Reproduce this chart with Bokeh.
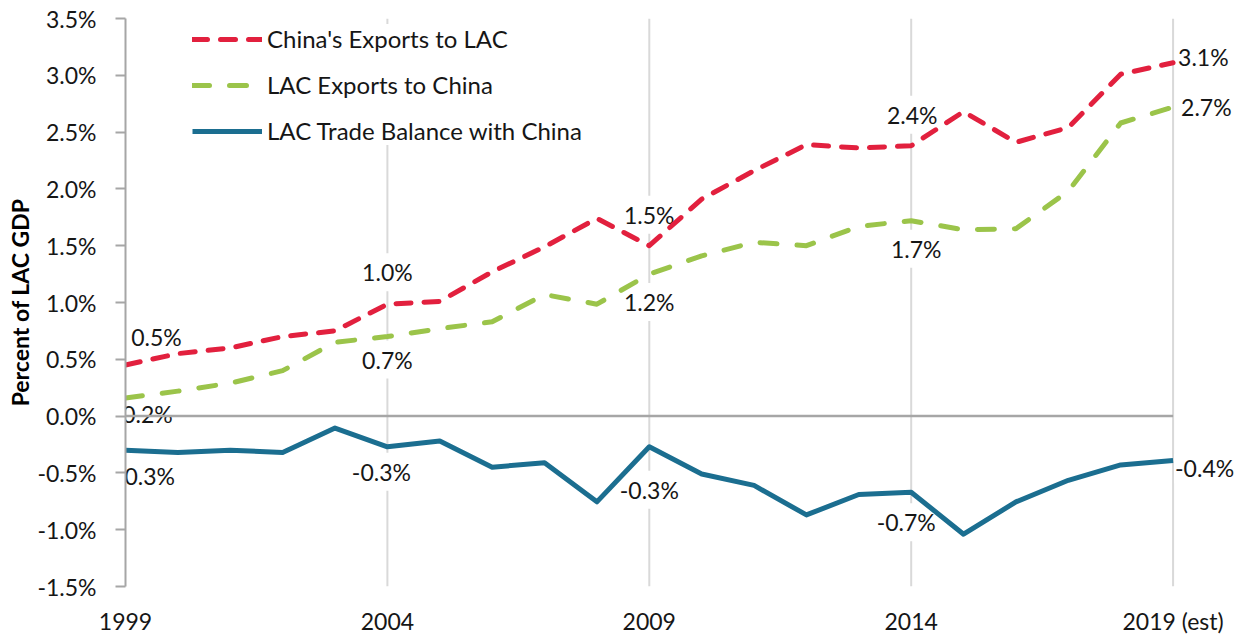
from bokeh.plotting import figure
from bokeh.models import (ColumnDataSource, Range1d, FixedTicker, CustomJSTickFormatter,
                          Legend, LegendItem)
from bokeh.core.properties import value
from bokeh.embed import file_html
from bokeh.resources import INLINE

# ---------------- data ----------------
years = list(range(1999, 2020))
china_exports_to_lac = [0.45, 0.55, 0.60, 0.70, 0.75, 0.985, 1.01, 1.27, 1.49, 1.74, 1.50,
                        1.91, 2.16, 2.39, 2.36, 2.38, 2.68, 2.41, 2.54, 3.01, 3.11]
lac_exports_to_china = [0.16, 0.22, 0.29, 0.40, 0.65, 0.70, 0.77, 0.83, 1.07, 0.985, 1.25,
                        1.41, 1.53, 1.50, 1.67, 1.72, 1.64, 1.65, 1.98, 2.58, 2.72]
lac_trade_balance = [-0.30, -0.32, -0.30, -0.32, -0.105, -0.27, -0.22, -0.45, -0.41, -0.755, -0.27,
                     -0.51, -0.61, -0.87, -0.69, -0.67, -1.04, -0.755, -0.565, -0.43, -0.39]
series_names = ["China's Exports to LAC", "LAC Exports to China", "LAC Trade Balance with China"]
label_years = [1999, 2004, 2009, 2014, 2019]
x_tick_labels = ["1999", "2004", "2009", "2014", "2019 (est)"]
y_ticks = [-1.5, -1.0, -0.5, 0.0, 0.5, 1.0, 1.5, 2.0, 2.5, 3.0, 3.5]
y_title = "Percent of LAC GDP"

# ---------------- styles / layout ----------------
FONT = "Lato"
RED = "#E2203E"
GREEN = "#9BC44A"
BLUE = "#1B6E90"
AXIS_GRAY = "#A6A6A6"
GRID_GRAY = "#D9D9D9"
TEXT = "#161616"

# data-label offsets in screen px (right, down) and alignment
red_off = [(31, -28, "center"), (0, -32, "center"), (0, -31, "center"), (1, -31, "center"), (4, -6, "left")]
green_off = [(22, 16, "center"), (0, 23, "center"), (0, 28, "center"), (5, 28, "center"), (7, 0, "left")]
blue_off = [(20, 26, "center"), (-6, 25, "center"), (0, 43, "center"), (-5, 30, "center"), (1, 8, "left")]

p = figure(width=1237, height=637, output_backend="svg", toolbar_location=None,
           x_range=Range1d(1999, 2020.23), y_range=Range1d(y_ticks[0], y_ticks[-1]),
           min_border_left=125, min_border_right=0, min_border_top=18, min_border_bottom=50)
p.outline_line_color = None
p.xgrid.visible = False
p.ygrid.visible = False

# x axis: labels only
xa = p.xaxis[0]
xa.ticker = FixedTicker(ticks=label_years)
xa.major_label_overrides = {yr: lab for yr, lab in zip(label_years, x_tick_labels)}
xa.axis_line_color = None
xa.major_tick_line_color = None
xa.minor_tick_line_color = None
xa.major_tick_out = 0
xa.major_tick_in = 0
xa.major_label_standoff = 20
xa.major_label_text_font = FONT
xa.major_label_text_font_size = "23px"
xa.major_label_text_color = TEXT

ax = p.yaxis[0]
ax.ticker = FixedTicker(ticks=y_ticks)
ax.formatter = CustomJSTickFormatter(code="return tick.toFixed(1) + '%';")
ax.major_label_text_font = FONT
ax.major_label_text_font_size = "23px"
ax.major_label_text_color = TEXT
ax.axis_line_color = AXIS_GRAY
ax.axis_line_width = 2
ax.major_tick_line_color = AXIS_GRAY
ax.major_tick_line_width = 2
ax.major_tick_out = 10
ax.major_tick_in = 0
ax.minor_tick_out = 0
ax.minor_tick_in = 0
ax.major_label_standoff = 19
ax.axis_label = y_title
ax.axis_label_text_font = FONT
ax.axis_label_text_font_style = "bold"
ax.axis_label_text_font_size = "23px"
ax.axis_label_text_color = "#000000"
ax.axis_label_standoff = 0

# vertical gridlines at labelled years (except the axis year)
grid_src = ColumnDataSource(dict(x=label_years[1:],
                                 y0=[y_ticks[0]] * (len(label_years) - 1),
                                 y1=[y_ticks[-1]] * (len(label_years) - 1)))
p.segment(x0="x", y0="y0", x1="x", y1="y1", source=grid_src, line_color=GRID_GRAY, line_width=2)

# data labels
def label_source(vals, offs, idx):
    yrs = [label_years[i] for i in idx]
    ys = [vals[years.index(yr)] for yr in yrs]
    return ColumnDataSource(dict(
        x=yrs, y=ys, text=[f"{v:.1f}%" for v in ys],
        dx=[offs[i][0] for i in idx], dy=[offs[i][1] for i in idx],
        align=[offs[i][2] for i in idx]))

inner = list(range(len(label_years) - 1))
end = [len(label_years) - 1]
for vals, offs in [(china_exports_to_lac, red_off), (lac_exports_to_china, green_off),
                   (lac_trade_balance, blue_off)]:
    for idx, pad in [(inner, 5), (end, 1)]:
        p.text(x="x", y="y", text="text", source=label_source(vals, offs, idx),
               x_offset="dx", y_offset="dy", text_align="align", text_baseline="middle",
               text_font=value(FONT), text_font_size="23px", text_color=TEXT,
               background_fill_color="white", padding=pad)

# zero line
p.segment(x0=[years[0]], y0=[0], x1=[years[-1]], y1=[0], line_color=AXIS_GRAY, line_width=2.5)

# series
r_red = p.line(years, china_exports_to_lac, line_color=RED, line_width=5,
               line_dash="15 13", line_cap="round", line_join="round")
r_green = p.line(years, lac_exports_to_china, line_color=GREEN, line_width=5,
                 line_dash="17 20", line_cap="round", line_join="round")
r_blue = p.line(years, lac_trade_balance, line_color=BLUE, line_width=5, line_join="round")

legend = Legend(items=[LegendItem(label=series_names[0], renderers=[r_red]),
                       LegendItem(label=series_names[1], renderers=[r_green]),
                       LegendItem(label=series_names[2], renderers=[r_blue])],
                location=(67, 441), orientation="vertical",
                glyph_width=70, glyph_height=20, label_height=20, label_width=10,
                spacing=17, padding=0, margin=0, label_standoff=5,
                label_text_font=FONT, label_text_font_size="24px", label_text_color=TEXT,
                background_fill_color="white", background_fill_alpha=1.0,
                border_line_color=None)
p.add_layout(legend)

open("out.html", "w").write(file_html(p, INLINE))
